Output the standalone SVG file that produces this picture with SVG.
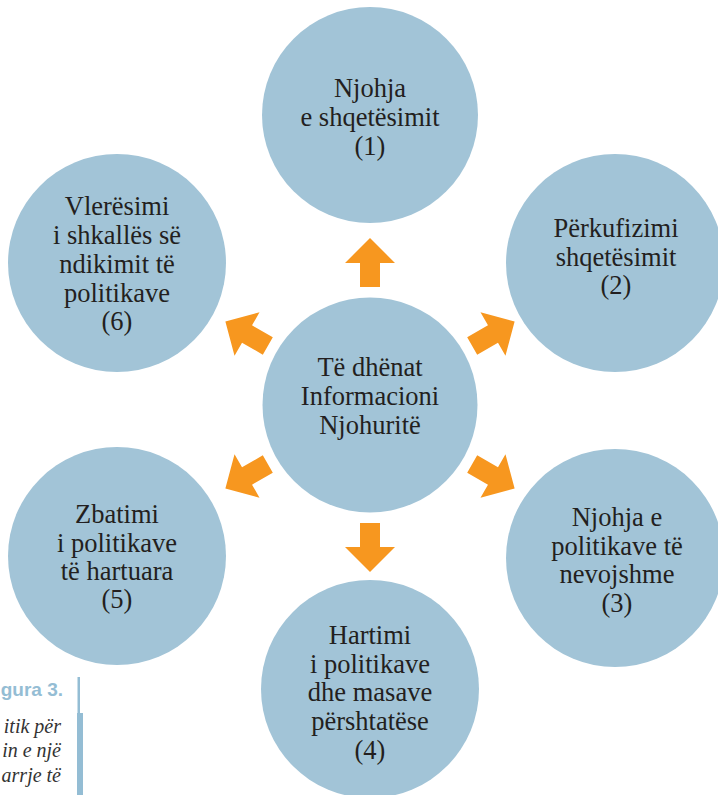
<svg xmlns="http://www.w3.org/2000/svg" width="718" height="795" viewBox="0 0 718 795">
  <style>
    .node { fill: #a2c4d7; }
    .lbl { font-family: 'Liberation Serif', 'DejaVu Serif', serif; font-size: 26.5px; fill: #231f20; text-anchor: middle; }
    .arrow { fill: #f7971f; }
    .cap-title { font-family: 'Liberation Sans', sans-serif; font-weight: bold; font-size: 19px; fill: #94bdd4; text-anchor: end; }
    .cap-text { font-family: 'Liberation Serif', 'DejaVu Serif', serif; font-style: italic; font-size: 20px; fill: #333333; text-anchor: end; }
  </style>
  <defs>
    <!-- block arrow pointing up, tip 167px above the hub centre -->
    <polygon id="blockArrow" points="0,-167 25,-142 10,-142 10,-118 -10,-118 -10,-142 -25,-142"/>
  </defs>
  <rect width="718" height="795" fill="#ffffff"/>

  <g id="connectors">
    <use href="#blockArrow" class="arrow" transform="translate(370,405) rotate(0)"/>
    <use href="#blockArrow" class="arrow" transform="translate(370,405) rotate(60)"/>
    <use href="#blockArrow" class="arrow" transform="translate(370,405) rotate(120)"/>
    <use href="#blockArrow" class="arrow" transform="translate(370,405) rotate(180)"/>
    <use href="#blockArrow" class="arrow" transform="translate(370,405) rotate(240)"/>
    <use href="#blockArrow" class="arrow" transform="translate(370,405) rotate(300)"/>
  </g>

  <g id="hub">
    <circle class="node" cx="370" cy="405" r="107.5"/>
    <text class="lbl" x="370" y="376">Të dhënat</text>
    <text class="lbl" x="370" y="405">Informacioni</text>
    <text class="lbl" x="370" y="434">Njohuritë</text>
  </g>

  <g id="step1">
    <circle class="node" cx="370" cy="115" r="108"/>
    <text class="lbl" x="370" y="97">Njohja</text>
    <text class="lbl" x="370" y="126">e shqetësimit</text>
    <text class="lbl" x="370" y="155">(1)</text>
  </g>

  <g id="step2">
    <circle class="node" cx="615" cy="263" r="109"/>
    <text class="lbl" x="616" y="237">Përkufizimi</text>
    <text class="lbl" x="616" y="266">shqetësimit</text>
    <text class="lbl" x="616" y="294">(2)</text>
  </g>

  <g id="step3">
    <circle class="node" cx="615" cy="558" r="109"/>
    <text class="lbl" x="617" y="526">Njohja e</text>
    <text class="lbl" x="617" y="555">politikave të</text>
    <text class="lbl" x="617" y="583">nevojshme</text>
    <text class="lbl" x="617" y="612">(3)</text>
  </g>

  <g id="step4">
    <circle class="node" cx="370" cy="689" r="109"/>
    <text class="lbl" x="370" y="644">Hartimi</text>
    <text class="lbl" x="370" y="673">i politikave</text>
    <text class="lbl" x="370" y="701">dhe masave</text>
    <text class="lbl" x="370" y="730">përshtatëse</text>
    <text class="lbl" x="370" y="759">(4)</text>
  </g>

  <g id="step5">
    <circle class="node" cx="117" cy="556" r="109"/>
    <text class="lbl" x="117" y="523">Zbatimi</text>
    <text class="lbl" x="117" y="552">i politikave</text>
    <text class="lbl" x="117" y="580">të hartuara</text>
    <text class="lbl" x="117" y="608">(5)</text>
  </g>

  <g id="step6">
    <circle class="node" cx="117" cy="263" r="109"/>
    <text class="lbl" x="117" y="215">Vlerësimi</text>
    <text class="lbl" x="117" y="244">i shkallës së</text>
    <text class="lbl" x="117" y="273">ndikimit të</text>
    <text class="lbl" x="117" y="302">politikave</text>
    <text class="lbl" x="117" y="330">(6)</text>
  </g>

  <!-- figure caption with side rule -->
  <g id="caption">
    <rect x="77.5" y="677" width="2.5" height="36" fill="#94bdd4"/>
    <rect x="77" y="713" width="6" height="82" fill="#94bdd4"/>
    <text class="cap-title" x="63" y="696">gura 3.</text>
    <text class="cap-text" x="61" y="733">itik për</text>
    <text class="cap-text" x="61" y="757">in e një</text>
    <text class="cap-text" x="61" y="782">arrje të</text>
  </g>
</svg>
